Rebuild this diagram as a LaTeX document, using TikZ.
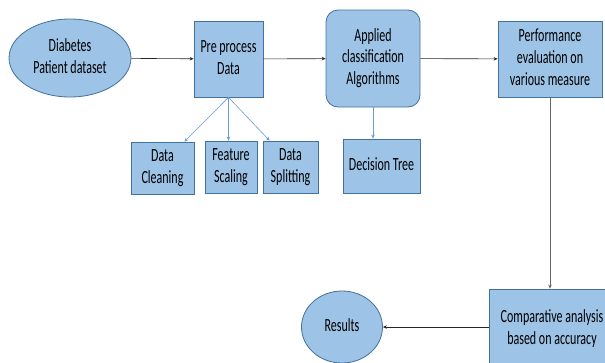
\documentclass[tikz,border=0pt]{standalone}
\usepackage{fontspec}
\setmainfont{Carlito}
\usepackage{graphicx}
\usetikzlibrary{arrows.meta,shapes.geometric}
\definecolor{boxfill}{HTML}{9DC3E6}
\definecolor{boxline}{HTML}{41719C}
\definecolor{subline}{HTML}{6A9BD8}
\newcommand{\tallText}[1]{\scalebox{1}[1.55]{\begin{tabular}{@{}c@{}}#1\end{tabular}}}
\tikzset{
  block/.style={draw=boxline,fill=boxfill,line width=0.8pt,inner sep=0pt,
    font=\fontsize{12}{14}\selectfont},
  blob/.style={block,ellipse},
  flow/.style={draw=black!85,line width=0.6pt,-{Stealth[length=4pt,width=3.5pt]}},
  subflow/.style={draw=subline,line width=0.6pt,-{Stealth[length=4pt,width=3.5pt]}}
}
\begin{document}
\begin{tikzpicture}[x=1pt,y=-1pt]
    \useasboundingbox (0,0) rectangle (605,362);
    % top row
    \node[blob,minimum width=122pt,minimum height=78pt] (data) at (70,58) {\tallText{Diabetes\\Patient dataset}};
    \node[block,minimum width=69pt,minimum height=76pt] (pre) at (228.5,59) {\tallText{Pre process\\Data}};
    \node[block,rounded corners=12pt,minimum width=94pt,minimum height=97pt] (algo) at (373,58.5) {\tallText{Applied\\classification\\Algorithms}};
    \node[block,minimum width=104pt,minimum height=76pt] (perf) at (550,59) {\tallText{Performance\\evaluation on\\various measure}};
    % preprocessing steps
    \node[block,minimum width=63pt,minimum height=52pt] (clean) at (162.5,168) {\tallText{Data\\Cleaning}};
    \node[block,minimum width=52pt,minimum height=52pt] (scale) at (231,167) {\tallText{Feature\\Scaling}};
    \node[block,minimum width=55pt,minimum height=52pt] (split) at (290.5,167) {\tallText{Data\\Splitting}};
    \node[block,minimum width=77pt,minimum height=54pt] (tree) at (381.5,166) {\tallText{Decision Tree}};
    % bottom row
    \node[block,minimum width=125pt,minimum height=80pt] (comp) at (552,329) {\tallText{Comparative analysis\\based on accuracy}};
    \node[blob,minimum width=81pt,minimum height=72pt] (res) at (342,327) {\tallText{Results}};
    % connectors
    \draw[flow] (data) -- (pre);
    \draw[flow] (pre) -- (algo);
    \draw[flow] (algo) -- (perf);
    \draw[subflow] (pre.south) -- ([xshift=-10pt]clean.north east);
    \draw[subflow] (pre.south) -- (pre.south |- scale.north);
    \draw[subflow] (pre.south) -- ([xshift=7pt]split.north west);
    \draw[subflow] (algo.south) -- (algo.south |- tree.north);
    \draw[flow,draw=black!60] (perf.south) -- (perf.south |- comp.north);
    \draw[flow] (comp.west |- res.east) -- (res.east);
\end{tikzpicture}
\end{document}
